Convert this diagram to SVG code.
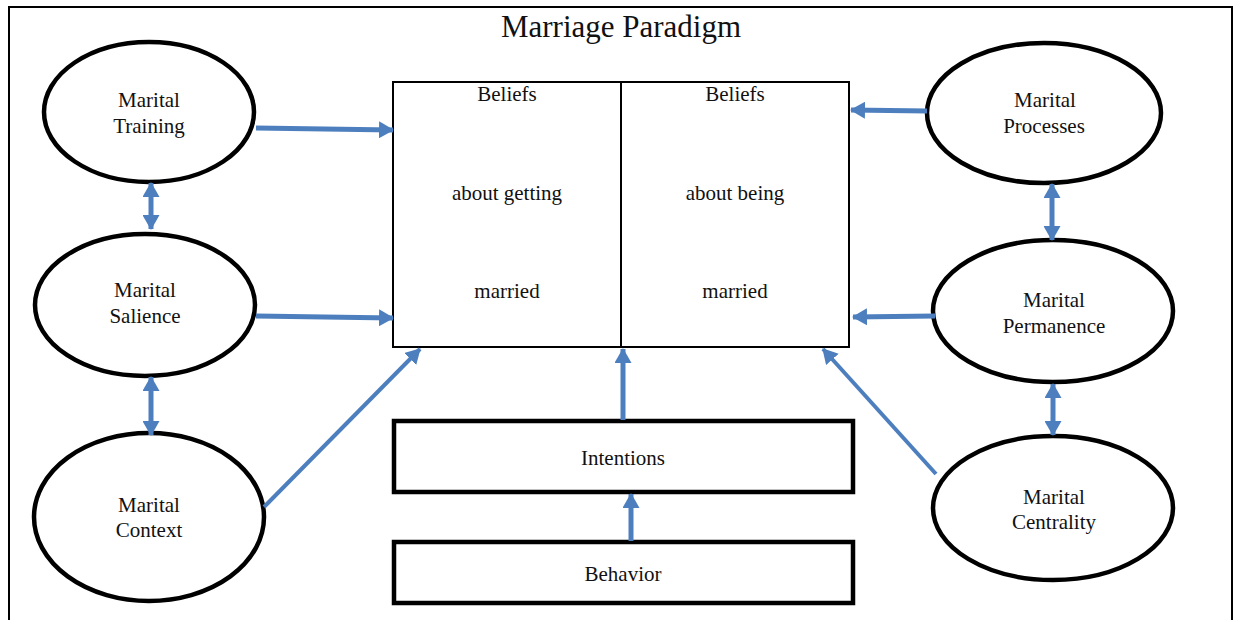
<svg xmlns="http://www.w3.org/2000/svg" width="1238" height="620" viewBox="0 0 1238 620">
<style>
text{font-family:"Liberation Serif","Times New Roman",serif;fill:#111;text-anchor:middle}
.t{font-size:21px}
.title{font-size:31px}
.ell{fill:#fff;stroke:#000;stroke-width:4.5}
.box{fill:#fff;stroke:#000;stroke-width:4.5}
.thin{fill:#fff;stroke:#000;stroke-width:2}
.c{fill:none;stroke:#4d7fbf;stroke-width:5;marker-end:url(#ah)}
.d{fill:none;stroke:#4d7fbf;stroke-width:5;marker-start:url(#ah);marker-end:url(#ah)}
.g{fill:none;stroke:#4d7fbf;stroke-width:4;marker-end:url(#ah)}
</style>
<defs>
<marker id="ah" markerUnits="userSpaceOnUse" markerWidth="15" markerHeight="17" refX="14" refY="8.5" orient="auto-start-reverse" viewBox="0 0 15 17">
<path d="M0,0 L15,8.5 L0,17 z" fill="#4d7fbf"/>
</marker>
</defs>
<rect x="0" y="0" width="1238" height="620" fill="#fff"/>
<rect id="frame" x="9" y="7" width="1223" height="620" fill="none" stroke="#000" stroke-width="2"/>
<text class="title" x="621" y="37">Marriage Paradigm</text>

<g id="beliefs">
<rect class="thin" x="393" y="82" width="456" height="265"/>
<line x1="621" y1="82" x2="621" y2="347" stroke="#000" stroke-width="2"/>
<text class="t" x="507" y="101">Beliefs</text>
<text class="t" x="507" y="200">about getting</text>
<text class="t" x="507" y="298">married</text>
<text class="t" x="735" y="101">Beliefs</text>
<text class="t" x="735" y="200">about being</text>
<text class="t" x="735" y="298">married</text>
</g>

<g id="intentions">
<rect class="box" x="394" y="421" width="459" height="71"/>
<text class="t" x="623" y="465">Intentions</text>
</g>
<g id="behavior">
<rect class="box" x="394" y="542" width="459" height="61"/>
<text class="t" x="623" y="581">Behavior</text>
</g>

<g id="training">
<ellipse class="ell" cx="149" cy="112" rx="105" ry="70"/>
<text class="t" x="149" y="107">Marital</text>
<text class="t" x="149" y="133">Training</text>
</g>
<g id="salience">
<ellipse class="ell" cx="145" cy="305" rx="110" ry="71"/>
<text class="t" x="145" y="297">Marital</text>
<text class="t" x="145" y="323">Salience</text>
</g>
<g id="context">
<ellipse class="ell" cx="149" cy="517" rx="115" ry="84"/>
<text class="t" x="149" y="512">Marital</text>
<text class="t" x="149" y="537">Context</text>
</g>
<g id="processes">
<ellipse class="ell" cx="1044" cy="113" rx="117" ry="70"/>
<text class="t" x="1045" y="107">Marital</text>
<text class="t" x="1044" y="133">Processes</text>
</g>
<g id="permanence">
<ellipse class="ell" cx="1053" cy="311" rx="120" ry="71"/>
<text class="t" x="1054" y="307">Marital</text>
<text class="t" x="1054" y="333">Permanence</text>
</g>
<g id="centrality">
<ellipse class="ell" cx="1053" cy="508" rx="120" ry="72"/>
<text class="t" x="1054" y="504">Marital</text>
<text class="t" x="1054" y="529">Centrality</text>
</g>

<g id="connectors">
<line class="c" x1="256" y1="128" x2="393" y2="130"/>
<line class="c" x1="256" y1="316" x2="393" y2="318"/>
<line class="g" x1="264" y1="507" x2="420" y2="349"/>
<line class="d" x1="151" y1="183" x2="151" y2="229"/>
<line class="d" x1="151" y1="377" x2="151" y2="435"/>
<line class="c" x1="623" y1="420" x2="623" y2="349"/>
<line class="c" x1="631" y1="541" x2="631" y2="494"/>
<line class="c" x1="927" y1="111" x2="851" y2="110"/>
<line class="c" x1="935" y1="316" x2="853" y2="317"/>
<line class="g" x1="936" y1="474" x2="823" y2="349"/>
<line class="d" x1="1052" y1="184" x2="1052" y2="240"/>
<line class="d" x1="1053" y1="384" x2="1053" y2="435"/>
</g>
</svg>
